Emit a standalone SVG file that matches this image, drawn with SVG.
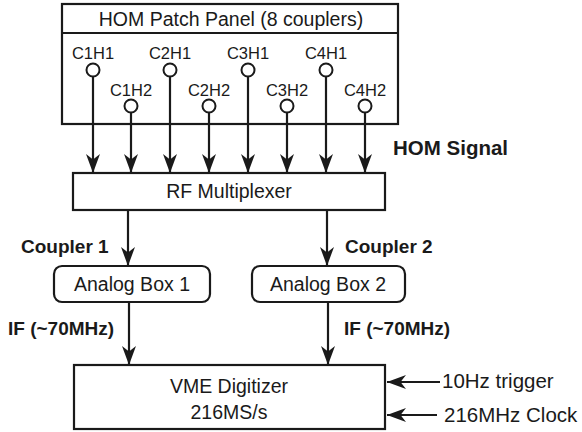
<svg xmlns="http://www.w3.org/2000/svg" width="582" height="432" viewBox="0 0 582 432">
<style>
.box{fill:#fff;stroke:#1a1a1a;stroke-width:2.2}
.t{font-family:"Liberation Sans",Arial,sans-serif;font-size:19.5px;fill:#1a1a1a}
.r{font-family:"Liberation Sans",Arial,sans-serif;font-size:20.5px;fill:#1a1a1a}
.p{font-family:"Liberation Sans",Arial,sans-serif;font-size:16.5px;fill:#1a1a1a;text-anchor:middle}
.b{font-family:"Liberation Sans",Arial,sans-serif;font-size:19px;font-weight:bold;fill:#1a1a1a}
.c{text-anchor:middle}
.ln{fill:none;stroke:#1a1a1a;stroke-width:2.2}
.pin{fill:#fff;stroke:#1a1a1a;stroke-width:2}
</style>
<defs>
<marker id="ah" markerUnits="userSpaceOnUse" markerWidth="20" markerHeight="16" refX="19" refY="7.5" orient="auto" viewBox="0 0 20 16">
<path d="M0,0.5 L19,7.5 L0,14.5 L5.5,7.5 Z" fill="#1a1a1a"/>
</marker>
</defs>
<g id="patch-panel">
<rect class="box" x="62" y="4" width="336" height="120"/>
<line class="ln" x1="62" y1="33" x2="398" y2="33"/>
<text class="t c" x="231" y="26">HOM Patch Panel (8 couplers)</text>
</g>
<g id="connectors">
<line class="ln" x1="93" y1="77" x2="93" y2="173" marker-end="url(#ah)"/>
<line class="ln" x1="131" y1="113" x2="131" y2="173" marker-end="url(#ah)"/>
<line class="ln" x1="170" y1="77" x2="170" y2="173" marker-end="url(#ah)"/>
<line class="ln" x1="209" y1="113" x2="209" y2="173" marker-end="url(#ah)"/>
<line class="ln" x1="248" y1="77" x2="248" y2="173" marker-end="url(#ah)"/>
<line class="ln" x1="287" y1="113" x2="287" y2="173" marker-end="url(#ah)"/>
<line class="ln" x1="326" y1="77" x2="326" y2="173" marker-end="url(#ah)"/>
<line class="ln" x1="365" y1="113" x2="365" y2="173" marker-end="url(#ah)"/>
<line class="ln" x1="128" y1="210" x2="128" y2="266" marker-end="url(#ah)"/>
<line class="ln" x1="327" y1="210" x2="327" y2="266" marker-end="url(#ah)"/>
<line class="ln" x1="129" y1="302" x2="129" y2="365" marker-end="url(#ah)"/>
<line class="ln" x1="328" y1="302" x2="328" y2="365" marker-end="url(#ah)"/>
<line class="ln" x1="440" y1="382" x2="387" y2="382" marker-end="url(#ah)"/>
<line class="ln" x1="437" y1="415" x2="387" y2="415" marker-end="url(#ah)"/>
<text class="b" x="393" y="155" style="font-size:20.5px">HOM Signal</text>
<text class="b" x="21" y="253">Coupler 1</text>
<text class="b" x="345" y="253">Coupler 2</text>
<text class="b" x="8" y="335">IF (~70MHz)</text>
<text class="b" x="344" y="335">IF (~70MHz)</text>
</g>
<g id="pins">
<circle class="pin" cx="93" cy="70" r="6.5"/>
<circle class="pin" cx="131" cy="106" r="6.5"/>
<circle class="pin" cx="170" cy="70" r="6.5"/>
<circle class="pin" cx="209" cy="106" r="6.5"/>
<circle class="pin" cx="248" cy="70" r="6.5"/>
<circle class="pin" cx="287" cy="106" r="6.5"/>
<circle class="pin" cx="326" cy="70" r="6.5"/>
<circle class="pin" cx="365" cy="106" r="6.5"/>
<text class="p" x="93" y="59">C1H1</text>
<text class="p" x="131" y="96">C1H2</text>
<text class="p" x="170" y="59">C2H1</text>
<text class="p" x="209" y="96">C2H2</text>
<text class="p" x="248" y="59">C3H1</text>
<text class="p" x="287" y="96">C3H2</text>
<text class="p" x="326" y="59">C4H1</text>
<text class="p" x="365" y="96">C4H2</text>
</g>
<g id="rf-multiplexer">
<rect class="box" x="73" y="173" width="312" height="37"/>
<text class="t c" x="229" y="198">RF Multiplexer</text>
</g>
<g id="analog-box-1">
<rect class="box" x="54" y="266" width="156" height="36" rx="8"/>
<text class="t c" x="132" y="291">Analog Box 1</text>
</g>
<g id="analog-box-2">
<rect class="box" x="252" y="266" width="153" height="36" rx="8"/>
<text class="t c" x="328" y="291">Analog Box 2</text>
</g>
<g id="vme-digitizer">
<rect class="box" x="74" y="365" width="311" height="64"/>
<text class="t c" x="229" y="393">VME Digitizer</text>
<text class="t c" x="229" y="419">216MS/s</text>
</g>
<g id="inputs">
<text class="r" x="442" y="388">10Hz trigger</text>
<text class="r" x="444" y="422">216MHz Clock</text>
</g>
</svg>
